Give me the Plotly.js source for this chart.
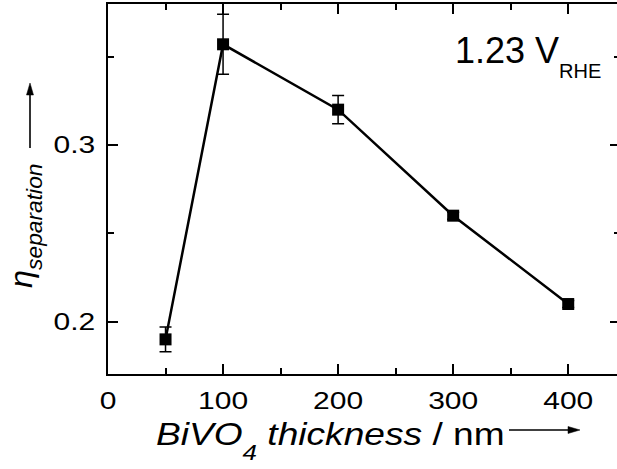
<!DOCTYPE html>
<html>
<head>
<meta charset="utf-8">
<script src="https://cdn.plot.ly/plotly-3.0.1.min.js"></script>
<style>
  html, body { margin: 0; padding: 0; overflow: hidden; background: #fff; }
  #chart { width: 630px; height: 469px; }
</style>
</head>
<body>
<div id="chart"></div>
<script>
// BiVO4 film thickness (nm) vs. charge-separation efficiency at 1.23 V_RHE
const thickness = [50, 100, 200, 300, 400];
const etaSeparation = [0.190, 0.357, 0.320, 0.260, 0.210];
const etaError = [0.007, 0.017, 0.008, 0.002, 0.002];
const xTickValues = [0, 100, 200, 300, 400];
const xTickLabels = ['0', '100', '200', '300', '400'];
const yTickValues = [0.2, 0.3];
const yTickLabels = ['0.2', '0.3'];

const FONT = 'Liberation Sans, Arial, Helvetica, sans-serif';
const W = 630, H = 469;
const M = { l: 108, r: 10, t: 4, b: 95 };
const plotW = W - M.l - M.r, plotH = H - M.t - M.b;
// pixel position on the page -> paper coordinates
const px = x => (x - M.l) / plotW;
const py = y => 1 - (y - M.t) / plotH;

const axisCommon = {
  showline: true, linewidth: 2, linecolor: '#000',
  mirror: 'ticks', ticks: 'inside', ticklen: 10, tickwidth: 2, tickcolor: '#000',
  showgrid: false, zeroline: false,
  tickfont: { family: FONT, size: 24, color: '#000' }
};

const trace = {
  x: thickness, y: etaSeparation,
  type: 'scatter', mode: 'lines+markers',
  line: { color: '#000', width: 2.5 },
  marker: { symbol: 'square', size: 12, color: '#000' },
  error_y: { type: 'data', array: etaError, visible: true, color: '#000', thickness: 1.5, width: 6 },
  showlegend: false
};

function arrowShapes(x0, y0, x1, y1, head, half) {
  // straight shaft plus a filled triangular head at (x1, y1), in page pixels
  const dx = x1 - x0, dy = y1 - y0, len = Math.hypot(dx, dy);
  const ux = dx / len, uy = dy / len;
  const bx = x1 - ux * head, by = y1 - uy * head;
  const p = (x, y) => px(x).toFixed(5) + ',' + py(y).toFixed(5);
  return [
    { type: 'line', xref: 'paper', yref: 'paper',
      x0: px(x0), y0: py(y0), x1: px(bx + ux * 1), y1: py(by + uy * 1),
      line: { color: '#000', width: 1.6 } },
    { type: 'path', xref: 'paper', yref: 'paper',
      path: 'M' + p(bx - uy * half, by + ux * half) + ' L' + p(x1, y1) +
            ' L' + p(bx + uy * half, by - ux * half) + ' Z',
      fillcolor: '#000', line: { color: '#000', width: 0.5 } }
  ];
}

const layout = {
  width: W, height: H,
  margin: M,
  paper_bgcolor: '#fff', plot_bgcolor: '#fff',
  font: { family: FONT, color: '#000' },
  xaxis: Object.assign({}, axisCommon, {
    range: [0, 445], tickmode: 'array', tickvals: xTickValues, ticktext: xTickLabels,
    minor: { ticks: 'inside', ticklen: 6, tickwidth: 2, tickcolor: '#000', tickmode: 'linear', tick0: 0, dtick: 50 },
    ticklabelstandoff: 4
  }),
  yaxis: Object.assign({}, axisCommon, {
    range: [0.1704, 0.3798], tickmode: 'array', tickvals: yTickValues, ticktext: yTickLabels,
    minor: { ticks: 'inside', ticklen: 6, tickwidth: 2, tickcolor: '#000', tickmode: 'linear', tick0: 0, dtick: 0.05 },
    ticklabelstandoff: 6
  }),
  annotations: [
    { text: '1.23 V', xref: 'paper', yref: 'paper', x: px(453), y: py(50.5),
      xanchor: 'left', yanchor: 'middle', showarrow: false,
      font: { family: FONT, size: 36, color: '#000' } },
    { text: 'RHE', xref: 'paper', yref: 'paper', x: px(557), y: py(70.5),
      xanchor: 'left', yanchor: 'middle', showarrow: false,
      font: { family: FONT, size: 20, color: '#000' } },
    { text: '<i>BiVO<sub>4</sub> thickness</i> / nm', xref: 'paper', yref: 'paper',
      x: px(330), y: py(436), xanchor: 'center', yanchor: 'middle', showarrow: false,
      font: { family: FONT, size: 32, color: '#000' } },
    { text: '<i>η<sub>separation</sub></i>', xref: 'paper', yref: 'paper',
      x: px(24), y: py(226), xanchor: 'center', yanchor: 'middle', textangle: -90, showarrow: false,
      font: { family: FONT, size: 31, color: '#000' } }
  ],
  shapes: [].concat(
    arrowShapes(509, 430, 580, 430, 12, 3.5),
    arrowShapes(30, 148, 30, 83, 12, 3.5)
  )
};

// stretch glyphs horizontally along the text direction
function widen(nodes, k) {
  nodes.forEach(t => {
    const w = t.getComputedTextLength();
    if (w > 0) {
      t.setAttribute('textLength', (w * k).toFixed(2));
      t.setAttribute('lengthAdjust', 'spacingAndGlyphs');
    }
  });
}
// push subscripts further below the baseline
function deepenSub(textNode, f) {
  textNode.querySelectorAll('tspan[dy]').forEach(ts => {
    const dy = ts.getAttribute('dy');
    const m = /^(-?[\d.]+)(.*)$/.exec(dy);
    if (m) ts.setAttribute('dy', (parseFloat(m[1]) * f) + m[2]);
  });
}

Plotly.newPlot('chart', [trace], layout, { staticPlot: true, displayModeBar: false }).then(gd => {
  widen(gd.querySelectorAll('.xtick text, .ytick text'), 1.25);
  const ann = gd.querySelectorAll('.annotation-text');
  deepenSub(ann[2], 2.2);
  deepenSub(ann[3], 1.5);
  widen([ann[2]], 1.16);
  widen([ann[3]], 1.05);
});
</script>
</body>
</html>
